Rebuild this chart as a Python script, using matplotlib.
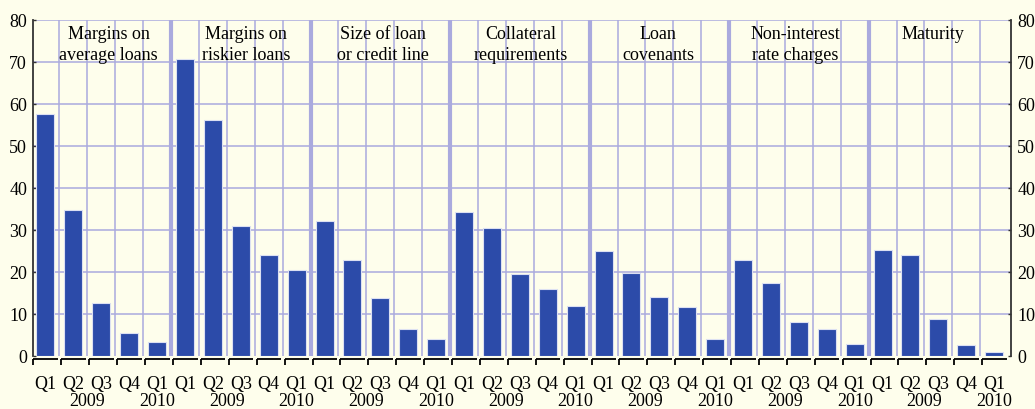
import matplotlib
matplotlib.use("Agg")
import matplotlib.pyplot as plt
from matplotlib.transforms import blended_transform_factory

# ---- data ----
groups = ["Margins on\naverage loans", "Margins on\nriskier loans", "Size of loan\nor credit line",
          "Collateral\nrequirements", "Loan\ncovenants", "Non-interest\nrate charges", "Maturity"]
quarters = ["Q1", "Q2", "Q3", "Q4", "Q1"]
years = ["2009", "2010"]
values = [
    [57.5, 34.8, 12.5, 5.5, 3.4],
    [70.7, 56.1, 30.9, 24.0, 20.5],
    [32.0, 22.8, 13.8, 6.5, 4.0],
    [34.3, 30.4, 19.4, 16.0, 12.0],
    [24.9, 19.8, 14.0, 11.7, 4.0],
    [22.8, 17.4, 8.0, 6.4, 2.9],
    [25.3, 24.1, 8.7, 2.7, 0.9],
]
yticks = [0, 10, 20, 30, 40, 50, 60, 70, 80]

# ---- style ----
BG = "#FEFEEC"
GRID = "#AAAADE"
BAR = "#2C4BA9"
EDGE = "#DCE0F2"
FONT = "Liberation Serif"
FS = 13

plt.rcParams["font.family"] = [FONT, "DejaVu Serif"]

fig = plt.figure(figsize=(10.35, 4.10), dpi=100, facecolor=BG)
ax = fig.add_axes([0.0322, 0.1293, 0.9447, 0.8202], facecolor=BG)

n = len(quarters)
xs, hs = [], []
for g, vals in enumerate(values):
    for q, v in enumerate(vals):
        xs.append(g * n + q)
        hs.append(v)
N = len(xs)

ax.set_xlim(-0.435, N - 1 + 0.605)
ax.set_ylim(0, 80)

# grid
for y in yticks[1:]:
    ax.axhline(y, color=GRID, lw=1.1, zorder=1)
for i in range(N - 1):
    sep = (i + 1) % n == 0
    ax.axvline(i + 0.5, color=GRID, lw=3.0 if sep else 1.1, zorder=1)

ax.bar(xs, hs, width=0.645, color=BAR, edgecolor=EDGE, linewidth=0.8, zorder=3)

# spines
for s in ["top", "bottom"]:
    ax.spines[s].set_visible(False)
for s in ["left", "right"]:
    ax.spines[s].set_color("#333333")
    ax.spines[s].set_linewidth(1.3)

ax.set_yticks(yticks)
ax.set_yticklabels([str(t) for t in yticks])
ax.tick_params(axis="y", direction="in", length=2.5, width=1, color="#333333",
               left=True, right=True, labelleft=True, labelright=True,
               labelsize=FS, pad=4.5)
for lab in ax.get_yticklabels():
    lab.set_fontfamily(FONT)

ax.set_xticks(xs)
ax.set_xticklabels([quarters[i % n] for i in range(N)], fontsize=FS, fontfamily=FONT)
ax.tick_params(axis="x", length=0, pad=14)

# bracket-like x-axis segments
for x in xs:
    ax.plot([x - 0.43, x + 0.45], [-0.75, -0.75], color="black", lw=1.3,
            clip_on=False, solid_capstyle="butt", zorder=4)
    ax.plot([x - 0.43, x - 0.43], [-0.75, -2.2], color="black", lw=1.3,
            clip_on=False, solid_capstyle="butt", zorder=4)

# year labels
tr = blended_transform_factory(ax.transData, ax.transAxes)
for g in range(len(groups)):
    ax.text(g * n + 1.5, -0.131, years[0], transform=tr, ha="center", va="center",
            fontsize=FS, fontfamily=FONT)
    ax.text(g * n + 4.0, -0.131, years[1], transform=tr, ha="center", va="center",
            fontsize=FS, fontfamily=FONT)

# group titles
for g, name in enumerate(groups):
    ax.text(g * n + 2 + 0.27 - 0.08 * g, 0.985, name, transform=tr, ha="center", va="top",
            fontsize=FS, fontfamily=FONT, linespacing=1.3, zorder=5)

fig.savefig("out.png", dpi=100, facecolor=BG)
